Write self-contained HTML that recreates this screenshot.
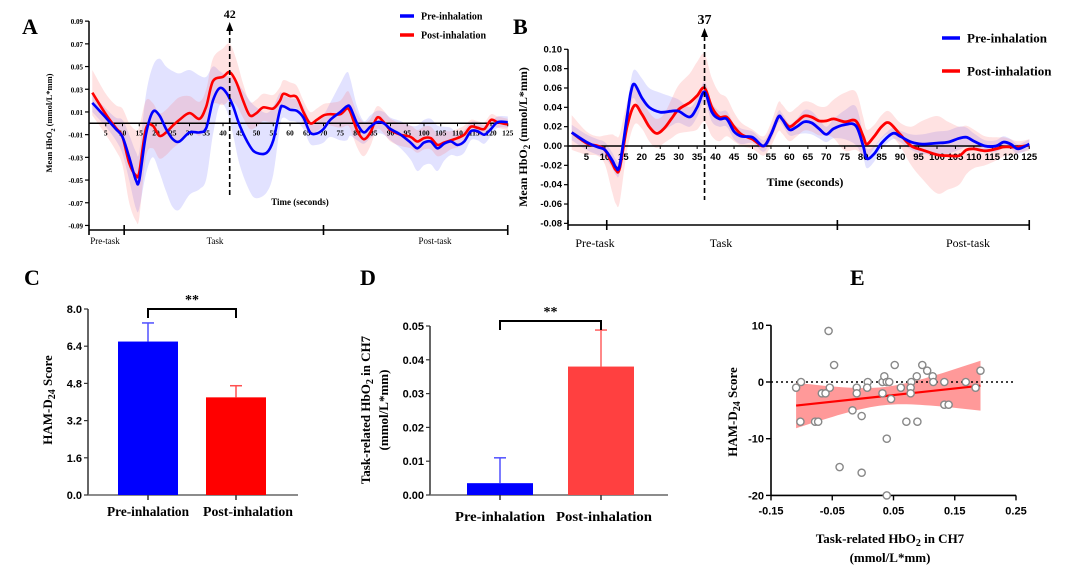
<!DOCTYPE html>
<html><head><meta charset="utf-8">
<style>
html,body{margin:0;padding:0;background:#fff;}
svg{display:block;}
.serif{font-family:"Liberation Serif",serif;font-weight:bold;}
.sans{font-family:"Liberation Sans",sans-serif;font-weight:bold;}
</style></head>
<body>
<svg id="fig" width="1080" height="569" viewBox="0 0 1080 569" xmlns="http://www.w3.org/2000/svg"></svg>
<script>
// ---------- Panel A data ----------
const tA_pre = [1,5,8,10,12,14,15,17,19,21,23,25,27,30,33,35,37,39,41,43,45,48,50,53,55,57,58,60,62,64,66,68,70,72,75,77,78,80,82,84,86,88,90,93,96,98,100,102,104,106,108,110,112,114,116,118,120,122,125];
const vA_pre = [0.018,0.005,-0.005,-0.012,-0.03,-0.05,-0.05,-0.01,0.01,0.007,-0.005,-0.014,-0.016,-0.008,-0.008,-0.004,0.02,0.031,0.027,0.015,-0.002,-0.02,-0.026,-0.026,-0.015,0.012,0.015,0.012,0.011,0.005,-0.008,-0.009,-0.005,0.003,0.01,0.015,0.014,0.0,-0.008,-0.003,0.001,0.0,-0.005,-0.01,-0.017,-0.022,-0.017,-0.016,-0.022,-0.018,-0.016,-0.019,-0.016,-0.007,-0.007,-0.01,-0.005,0.001,0.001];
const sA_pre = [0.008,0.008,0.01,0.015,0.02,0.025,0.025,0.035,0.04,0.05,0.055,0.06,0.06,0.055,0.05,0.045,0.03,0.015,0.015,0.025,0.035,0.04,0.04,0.035,0.03,0.015,0.01,0.01,0.01,0.01,0.01,0.01,0.012,0.015,0.025,0.03,0.025,0.015,0.01,0.01,0.01,0.01,0.01,0.012,0.015,0.02,0.02,0.02,0.02,0.015,0.012,0.01,0.01,0.008,0.008,0.008,0.006,0.005,0.005];
const tA_post = [1,5,8,10,12,14,15,17,19,21,23,25,27,30,33,35,37,40,42,44,46,48,50,52,55,57,58,60,62,64,66,68,70,72,75,77,78,80,82,84,86,88,90,93,96,98,100,102,104,106,108,110,112,114,116,118,120,122,125];
const vA_post = [0.027,0.008,-0.004,-0.012,-0.035,-0.046,-0.043,-0.005,-0.002,-0.011,-0.008,-0.002,0.003,0.009,0.004,0.015,0.037,0.041,0.045,0.036,0.02,0.007,0.009,0.014,0.013,0.02,0.026,0.024,0.023,0.01,0.0,0.003,0.007,0.008,0.008,0.013,0.01,-0.006,-0.014,-0.008,0.005,0.001,-0.006,-0.01,-0.012,-0.016,-0.013,-0.013,-0.019,-0.017,-0.015,-0.013,-0.01,-0.003,-0.004,-0.005,0.003,0.001,-0.001];
const sA_post = [0.02,0.018,0.02,0.025,0.035,0.04,0.04,0.025,0.02,0.02,0.02,0.02,0.02,0.015,0.015,0.015,0.02,0.025,0.025,0.02,0.015,0.012,0.012,0.012,0.012,0.012,0.012,0.012,0.01,0.01,0.01,0.01,0.01,0.01,0.012,0.015,0.015,0.015,0.015,0.012,0.01,0.01,0.01,0.01,0.01,0.01,0.01,0.01,0.01,0.01,0.008,0.008,0.008,0.006,0.006,0.006,0.005,0.005,0.005];
const ticksA_y = [0.09,0.07,0.05,0.03,0.01,-0.01,-0.03,-0.05,-0.07,-0.09];
const ticksA_x = [5,10,15,20,25,30,35,40,45,50,55,60,65,70,75,80,85,90,95,100,105,110,115,120,125];

// ---------- Panel B data ----------
const tB_pre = [1,5,8,10,12,13,14,16,17,18,20,22,25,28,30,33,35,37,39,41,43,45,47,50,53,55,57,58,60,62,64,66,68,70,72,75,78,80,81,83,85,88,90,93,96,100,103,106,108,110,113,116,118,120,122,125];
const vB_pre = [0.014,0.004,-0.001,-0.004,-0.015,-0.022,-0.02,0.03,0.055,0.064,0.05,0.04,0.035,0.036,0.036,0.03,0.04,0.056,0.035,0.028,0.028,0.015,0.01,0.009,0.0,0.012,0.03,0.028,0.017,0.02,0.025,0.024,0.018,0.012,0.018,0.022,0.021,0.0,-0.013,-0.008,0.003,0.013,0.01,0.004,0.002,0.003,0.004,0.008,0.009,0.005,0.0,0.0,0.004,0.002,-0.003,0.002];
const sB_pre = [0.008,0.008,0.008,0.008,0.008,0.008,0.008,0.01,0.012,0.015,0.02,0.02,0.02,0.015,0.012,0.01,0.01,0.01,0.01,0.008,0.008,0.008,0.008,0.006,0.006,0.006,0.006,0.006,0.006,0.008,0.012,0.012,0.01,0.008,0.01,0.015,0.02,0.012,0.01,0.008,0.006,0.006,0.006,0.008,0.01,0.012,0.012,0.012,0.01,0.008,0.006,0.006,0.006,0.005,0.005,0.005];
const tB_post = [1,5,8,10,12,13,14,16,18,20,22,24,26,28,30,33,35,37,39,41,43,45,47,50,53,55,57,58,60,62,64,66,68,70,72,75,78,80,81,83,85,87,90,93,96,100,103,106,108,110,113,116,118,120,122,125];
const vB_post = [0.014,0.003,0.0,-0.004,-0.018,-0.025,-0.023,0.02,0.042,0.033,0.02,0.013,0.018,0.028,0.038,0.045,0.052,0.06,0.04,0.03,0.03,0.02,0.012,0.007,0.0,0.012,0.03,0.028,0.02,0.025,0.031,0.03,0.026,0.026,0.028,0.025,0.026,0.01,0.002,0.01,0.02,0.024,0.012,0.0,-0.004,-0.009,-0.01,-0.01,-0.004,-0.003,-0.005,-0.003,-0.001,-0.001,-0.001,0.001];
const sB_post = [0.018,0.012,0.01,0.015,0.03,0.035,0.035,0.025,0.02,0.015,0.015,0.015,0.015,0.02,0.025,0.03,0.035,0.035,0.03,0.025,0.02,0.015,0.012,0.01,0.01,0.012,0.015,0.015,0.015,0.015,0.015,0.015,0.015,0.015,0.02,0.03,0.03,0.02,0.015,0.012,0.012,0.012,0.012,0.02,0.03,0.04,0.035,0.03,0.025,0.02,0.015,0.012,0.01,0.008,0.006,0.006];
const ticksB_y = [0.10,0.08,0.06,0.04,0.02,0.00,-0.02,-0.04,-0.06,-0.08];
const ticksB_x = [5,10,15,20,25,30,35,40,45,50,55,60,65,70,75,80,85,90,95,100,105,110,115,120,125];

// ---------- Panel C data ----------
const catsC = ["Pre-inhalation","Post-inhalation"];
const meansC = [6.6, 4.2];
const errsC = [0.8, 0.5];
const ticksC = [0.0,1.6,3.2,4.8,6.4,8.0];

// ---------- Panel D data ----------
const catsD = ["Pre-inhalation","Post-inhalation"];
const meansD = [0.0035, 0.038];
const errsD = [0.0075, 0.0108];
const ticksD = [0.00,0.01,0.02,0.03,0.04,0.05];

// ---------- Panel E data ----------
const xE = [-0.109,-0.101,-0.102,-0.078,-0.073,-0.067,-0.061,-0.056,-0.054,-0.047,-0.038,-0.017,-0.010,-0.010,-0.002,-0.002,0.008,0.007,0.032,0.032,0.035,0.039,0.039,0.039,0.043,0.046,0.052,0.062,0.071,0.079,0.078,0.078,0.088,0.089,0.097,0.105,0.114,0.115,0.133,0.133,0.140,0.168,0.184,0.192];
const yE = [-1,0,-7,-7,-7,-2,-2,9,-1,3,-15,-5,-1,-2,-6,-16,0,-1,-2,0,1,0,-10,-20,0,-3,3,-1,-7,0,-1,-2,1,-7,3,2,1,0,0,-4,-4,0,-1,2];
const ticksE_x = [-0.15,-0.05,0.05,0.15,0.25];
const ticksE_y = [10,0,-10,-20];

const NS = "http://www.w3.org/2000/svg";
const svg = document.getElementById('fig');
function mk(tag, attrs, parent){
  const e = document.createElementNS(NS, tag);
  for (const k in attrs) e.setAttribute(k, attrs[k]);
  (parent||svg).appendChild(e);
  return e;
}
function txt(s, x, y, size, cls, anchor, parent, extra){
  const e = mk('text', Object.assign({x:x, y:y, 'font-size':size, 'class':cls, 'text-anchor':anchor||'start', fill:'#000'}, extra||{}), parent);
  e.textContent = s;
  return e;
}
function smoothPath(pts){
  if (!pts.length) return '';
  let d = 'M' + pts[0][0].toFixed(1) + ',' + pts[0][1].toFixed(1);
  for (let i=0;i<pts.length-1;i++){
    const p0 = pts[i-1]||pts[i], p1 = pts[i], p2 = pts[i+1], p3 = pts[i+2]||p2;
    const c1x = p1[0]+(p2[0]-p0[0])/6, c1y = p1[1]+(p2[1]-p0[1])/6;
    const c2x = p2[0]-(p3[0]-p1[0])/6, c2y = p2[1]-(p3[1]-p1[1])/6;
    d += ' C'+c1x.toFixed(1)+','+c1y.toFixed(1)+' '+c2x.toFixed(1)+','+c2y.toFixed(1)+' '+p2[0].toFixed(1)+','+p2[1].toFixed(1);
  }
  return d;
}
function bandPath(ts, vs, ss, sx, sy){
  const up = ts.map((t,i)=>[sx(t), sy(vs[i]+ss[i])]);
  const lo = ts.map((t,i)=>[sx(t), sy(vs[i]-ss[i])]).reverse();
  const d1 = smoothPath(up);
  const d2 = smoothPath(lo).replace(/^M/, 'L');
  return d1 + ' ' + d2 + ' Z';
}

function timePanel(cfg){
  const g = mk('g', {});
  
  
  const sx = t => cfg.x0 + t*cfg.kx;
  const sy = v => cfg.y0 - v*cfg.ky;
  const b1 = mk('path', {d: bandPath(cfg.tPre, cfg.vPre, cfg.sPre, sx, sy), fill:'rgba(110,110,255,0.2)', stroke:'none'}, g);
  
  
  const b2 = mk('path', {d: bandPath(cfg.tPost, cfg.vPost, cfg.sPost, sx, sy), fill:'rgba(255,110,110,0.2)', stroke:'none'}, g);
  
  
  const ya = mk('line', {x1:cfg.x0, x2:cfg.x0, y1:sy(cfg.yTicks[0]), y2:sy(cfg.yTicks[cfg.yTicks.length-1]), stroke:'#000','stroke-width':1.5}, g);
  
  
  cfg.yTicks.forEach(v=>{
    mk('line', {x1:cfg.x0-4, x2:cfg.x0, y1:sy(v), y2:sy(v), stroke:'#000','stroke-width':1.2}, g);
    const tl = txt(v.toFixed(2), cfg.x0-6, sy(v)+3, cfg.yfs, cfg.ycls, 'end', g);
    
    
  });
  const za = mk('line', {x1:cfg.x0, x2:sx(125), y1:sy(0), y2:sy(0), stroke:'#000','stroke-width':1.5}, g);
  
  
  cfg.xTicks.forEach(t=>{
    mk('line', {x1:sx(t), x2:sx(t), y1:sy(0), y2:sy(0)+3, stroke:'#000','stroke-width':1}, g);
    const tl = txt(String(t), sx(t), sy(0)+cfg.xOff, cfg.xfs, cfg.xcls, 'middle', g);
    
    
  });
  const l2 = mk('path', {d: smoothPath(cfg.tPost.map((t,i)=>[sx(t), sy(cfg.vPost[i])])), fill:'none', stroke:'#ff0000','stroke-width':cfg.lw,'stroke-linejoin':'round'}, g);
  
  
  const l1 = mk('path', {d: smoothPath(cfg.tPre.map((t,i)=>[sx(t), sy(cfg.vPre[i])])), fill:'none', stroke:'#0000ff','stroke-width':cfg.lw,'stroke-linejoin':'round'}, g);
  
  
  const px = sx(cfg.peak);
  const dl = mk('line', {x1:px, x2:px, y1:cfg.dashTop+6, y2:cfg.dashBot, stroke:'#000','stroke-width':1.6,'stroke-dasharray':'5,3'}, g);
  
  
  mk('polygon', {points:(px-3.5)+','+(cfg.dashTop+7)+' '+(px+3.5)+','+(cfg.dashTop+7)+' '+px+','+(cfg.dashTop-2), fill:'#000'}, g);
  const pl = txt(String(cfg.peak), px, cfg.dashTop-6, cfg.peakfs, 'serif', 'middle', g);
  
  
  const tt = txt('Time (seconds)', cfg.timeX, cfg.timeY, cfg.timefs, 'serif', 'middle', g);
  
  
  const pa = mk('line', {x1:cfg.x0, x2:sx(125), y1:cfg.phaseY, y2:cfg.phaseY, stroke:'#000','stroke-width':1.6}, g);
  
  
  [0, cfg.b1, cfg.b2, 125].forEach(t=>{
    mk('line', {x1:sx(t), x2:sx(t), y1:cfg.phaseY-5, y2:cfg.phaseY+5, stroke:'#000','stroke-width':1.6}, g);
  });
  [['Pre-task', cfg.lab1],['Task', cfg.lab2],['Post-task', cfg.lab3]].forEach(p=>{
    const e = txt(p[0], p[1], cfg.phaseY+cfg.phaseOff, cfg.phasefs, 'serifn', 'middle', g, {'font-family':'Liberation Serif, serif'});
    
    
  });
  const yt = mk('text', {x:0, y:0, 'font-size':cfg.ytfs, 'class':'serif', 'text-anchor':'middle', transform:'translate('+cfg.ytX+','+cfg.ytY+') rotate(-90)'}, g);
  yt.innerHTML = 'Mean HbO<tspan dy="3" font-size="'+(cfg.ytfs*0.75)+'">2</tspan><tspan dy="-3"> (mmol/L*mm)</tspan>';
  
  
  [[cfg.legY1,'#0000ff','Pre-inhalation','legend-pre'],[cfg.legY2,'#ff0000','Post-inhalation','legend-post']].forEach(l=>{
    const lg = mk('g', {}, g);
    
    
    mk('line', {x1:cfg.legX, x2:cfg.legX+cfg.legW, y1:l[0], y2:l[0], stroke:l[1], 'stroke-width':3.5}, lg);
    txt(l[2], cfg.legX+cfg.legW+7, l[0]+cfg.legfs*0.35, cfg.legfs, 'serif', 'start', lg);
  });
  const pl2 = txt(cfg.letter, cfg.letX, cfg.letY, 22, 'serif', 'start', g);
  
  
}

timePanel({name:'panel-a', letter:'A', letX:22, letY:34,
  tPre:tA_pre, vPre:vA_pre, sPre:sA_pre, tPost:tA_post, vPost:vA_post, sPost:sA_post,
  x0:89, kx:3.35, y0:123.3, ky:1135, yTicks:ticksA_y, xTicks:ticksA_x,
  yfs:7, ycls:'serif', xfs:7.5, xcls:'serif', xOff:12, lw:2.6,
  peak:42, dashTop:24, dashBot:197, peakfs:12,
  timeX:300, timeY:205, timefs:9,
  phaseY:230, b1:10.5, b2:70, lab1:105, lab2:215, lab3:435, phaseOff:14, phasefs:9,
  ytX:52, ytY:123, ytfs:8.5,
  legX:400, legW:14, legY1:16, legY2:35, legfs:10});

timePanel({name:'panel-b', letter:'B', letX:513, letY:34,
  tPre:tB_pre, vPre:vB_pre, sPre:sB_pre, tPost:tB_post, vPost:vB_post, sPost:sB_post,
  x0:568, kx:3.69, y0:146, ky:967, yTicks:ticksB_y, xTicks:ticksB_x,
  yfs:9.5, ycls:'sans', xfs:9.5, xcls:'sans', xOff:14, lw:2.8,
  peak:37, dashTop:30, dashBot:200, peakfs:14,
  timeX:805, timeY:186, timefs:12,
  phaseY:225, b1:10.5, b2:73, lab1:595, lab2:721, lab3:968, phaseOff:22, phasefs:12,
  ytX:527, ytY:137, ytfs:12,
  legX:942, legW:18, legY1:38, legY2:71, legfs:13});

function barPanel(cfg){
  const g = mk('g', {});
  
  
  const sy = v => cfg.y0 - v*cfg.ky;
  const top = cfg.ticks[cfg.ticks.length-1];
  const ya = mk('line', {x1:cfg.x0, x2:cfg.x0, y1:sy(top), y2:sy(0), stroke:'#333','stroke-width':1.5}, g);
  
  
  const xa = mk('line', {x1:cfg.x0, x2:cfg.xEnd, y1:sy(0), y2:sy(0), stroke:'#666','stroke-width':1.5}, g);
  
  
  cfg.ticks.forEach(v=>{
    mk('line', {x1:cfg.x0-4, x2:cfg.x0, y1:sy(v), y2:sy(v), stroke:'#333','stroke-width':1.2}, g);
    const t = txt(v.toFixed(cfg.dec), cfg.x0-6, sy(v)+4, 11, 'sans', 'end', g);
    
    
  });
  cfg.cats.forEach((c,i)=>{
    const cx = cfg.centers[i];
    const col = cfg.colors[i];
    const r = mk('rect', {x:cx-cfg.bw/2, y:sy(cfg.means[i]), width:cfg.bw, height:sy(0)-sy(cfg.means[i]), fill:col}, g);
    
    
    const ey = sy(cfg.means[i]+cfg.errs[i]);
    mk('line', {x1:cx, x2:cx, y1:sy(cfg.means[i]), y2:ey, stroke:cfg.errColors[i], 'stroke-width':1.5}, g);
    const ec = mk('line', {x1:cx-6, x2:cx+6, y1:ey, y2:ey, stroke:cfg.errColors[i], 'stroke-width':1.5}, g);
    
    
    mk('line', {x1:cx, x2:cx, y1:sy(0), y2:sy(0)+5, stroke:'#333','stroke-width':1.5}, g);
    const l = txt(c, cx+cfg.labDx[i], sy(0)+cfg.labOff, 14, 'serif', 'middle', g, {textLength:cfg.labW[i], lengthAdjust:'spacingAndGlyphs'});
    
    
  });
  const bx1 = cfg.centers[0], bx2 = cfg.centers[1];
  const br = mk('path', {d:'M'+bx1+','+(cfg.brY+9)+' V'+cfg.brY+' H'+bx2+' V'+(cfg.brY+9), fill:'none', stroke:'#000','stroke-width':2}, g);
  
  
  const st = txt('**', (bx1+bx2)/2, cfg.brY-5, 14, 'serif', 'middle', g);
  
  
  const pl = txt(cfg.letter, cfg.letX, cfg.letY, 22, 'serif', 'start', g);
  
  
  return {g, sy};
}

const C = barPanel({name:'panel-c', letter:'C', letX:24, letY:285, cats:catsC, means:meansC, errs:errsC, ticks:ticksC, dec:1,
  x0:88, xEnd:298, y0:495, ky:23.25, centers:[148,236], bw:60, colors:['#0000ff','#ff0000'], errColors:['#5050ff','#ff5050'],
  labOff:21, brY:309, labW:[82,90], labDx:[0,12]});
{
  const yt = mk('text', {x:0,y:0,'font-size':13,'class':'serif','text-anchor':'middle',transform:'translate(52,400) rotate(-90)'}, C.g);
  yt.innerHTML = 'HAM-D<tspan dy="3" font-size="10">24</tspan><tspan dy="-3"> Score</tspan>';
  
  
}
const D = barPanel({name:'panel-d', letter:'D', letX:360, letY:285, cats:catsD, means:meansD, errs:errsD, ticks:ticksD, dec:2,
  x0:430, xEnd:668, y0:495, ky:3380, centers:[500,601], bw:66, colors:['#0000ff','#ff4040'], errColors:['#5050ff','#ff6060'],
  labOff:26, brY:321, labW:[90,96], labDx:[0,3]});
{
  const yt = mk('text', {x:0,y:0,'font-size':13,'class':'serif','text-anchor':'middle',transform:'translate(370,410) rotate(-90)'}, D.g);
  yt.innerHTML = 'Task-related HbO<tspan dy="3" font-size="10">2</tspan><tspan dy="-3">  in CH7</tspan>';
  
  
  const yt2 = txt('(mmol/L*mm)', 0, 0, 13, 'serif', 'middle', D.g, {transform:'translate(388,410) rotate(-90)'});
  
  
}

(function(){
  const g = mk('g', {});
  
  
  const x0 = 771, y0 = 382;
  const sx = v => x0 + (v+0.15)*612.5;
  const sy = v => y0 - v*5.67;
  const n = xE.length;
  const mx = xE.reduce((a,b)=>a+b,0)/n, my = yE.reduce((a,b)=>a+b,0)/n;
  let sxx=0, sxy=0;
  for (let i=0;i<n;i++){ sxx += (xE[i]-mx)**2; sxy += (xE[i]-mx)*(yE[i]-my); }
  const slope = sxy/sxx, icpt = my - slope*mx;
  let sse = 0;
  for (let i=0;i<n;i++){ sse += (yE[i]-(icpt+slope*xE[i]))**2; }
  const s = Math.sqrt(sse/(n-2)), tc = 2.02;
  const xmin = Math.min(...xE), xmax = Math.max(...xE);
  const up=[], lo=[];
  for (let k=0;k<=40;k++){
    const xv = xmin + (xmax-xmin)*k/40;
    const h = tc*s*Math.sqrt(1/n + 1.6*(xv-mx)**2/sxx);
    const yv = icpt + slope*xv;
    up.push([sx(xv), sy(yv+h)]); lo.push([sx(xv), sy(yv-h)]);
  }
  const band = mk('path', {d:'M'+up.map(p=>p[0].toFixed(1)+','+p[1].toFixed(1)).join(' L')+' L'+lo.reverse().map(p=>p[0].toFixed(1)+','+p[1].toFixed(1)).join(' L')+' Z', fill:'rgba(255,70,70,0.55)'}, g);
  
  
  const zl = mk('line', {x1:x0, x2:sx(0.25), y1:sy(0), y2:sy(0), stroke:'#000','stroke-width':1.4,'stroke-dasharray':'2,3'}, g);
  
  
  const rl = mk('line', {x1:sx(xmin), x2:sx(xmax), y1:sy(icpt+slope*xmin), y2:sy(icpt+slope*xmax), stroke:'#ff0000','stroke-width':2.2}, g);
  
  
  const ya = mk('line', {x1:x0, x2:x0, y1:sy(10), y2:sy(-20), stroke:'#000','stroke-width':1.6}, g);
  
  
  const xa = mk('line', {x1:x0, x2:sx(0.25), y1:sy(-20), y2:sy(-20), stroke:'#000','stroke-width':1.6}, g);
  
  
  ticksE_y.forEach(v=>{
    mk('line', {x1:x0-5, x2:x0, y1:sy(v), y2:sy(v), stroke:'#000','stroke-width':1.4}, g);
    const t = txt(String(v), x0-7, sy(v)+4, 11, 'sans', 'end', g);
    
    
  });
  ticksE_x.forEach(v=>{
    mk('line', {x1:sx(v), x2:sx(v), y1:sy(-20), y2:sy(-20)+5, stroke:'#000','stroke-width':1.4}, g);
    const t = txt(v.toFixed(2), sx(v), sy(-20)+19, 11, 'sans', 'middle', g);
    
    
  });
  for (let i=0;i<n;i++){
    const c = mk('circle', {cx:sx(xE[i]), cy:sy(yE[i]), r:3.6, fill:'#fff', stroke:'#888','stroke-width':1.4}, g);
    
    
  }
  const yt = mk('text', {x:0,y:0,'font-size':13,'class':'serif','text-anchor':'middle',transform:'translate(737,412) rotate(-90)'}, g);
  yt.innerHTML = 'HAM-D<tspan dy="3" font-size="10">24</tspan><tspan dy="-3"> Score</tspan>';
  
  
  const xt = mk('text', {x:890,y:543,'font-size':13,'class':'serif','text-anchor':'middle'}, g);
  xt.innerHTML = 'Task-related HbO<tspan dy="3" font-size="10">2</tspan><tspan dy="-3">  in CH7</tspan>';
  
  
  const xu = txt('(mmol/L*mm)', 890, 562, 13, 'serif', 'middle', g);
  
  
  const pl = txt('E', 850, 285, 22, 'serif', 'start', g);
  
  
})();
</script>
</body></html>
